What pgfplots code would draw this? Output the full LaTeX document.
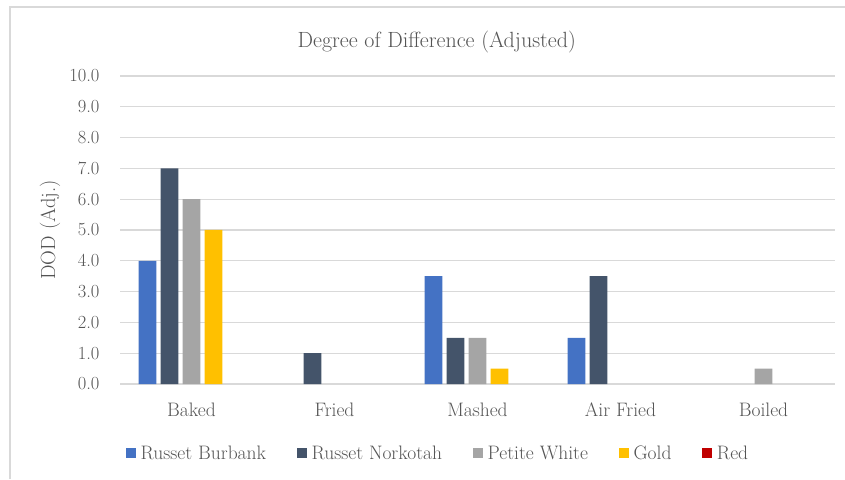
\documentclass[border=0pt]{standalone}
\usepackage{pgfplots}
\pgfplotsset{compat=1.18}
\definecolor{burbank}{HTML}{4472C4}
\definecolor{norkotah}{HTML}{44546A}
\definecolor{petite}{HTML}{A5A5A5}
\definecolor{goldpot}{HTML}{FFC000}
\definecolor{redpot}{HTML}{C00000}
\definecolor{txt}{HTML}{545454}
\definecolor{gridc}{HTML}{D9D9D9}
\begin{document}
\begin{tikzpicture}
\useasboundingbox (0pt,0pt) rectangle (845pt,479pt);
% chart frame
\draw[gridc, line width=1.2pt] (10pt,0pt) -- (10pt,472pt) -- (845pt,472pt);
\begin{axis}[
  at={(120pt,95pt)}, anchor=south west,
  scale only axis, width=715pt, height=308pt,
  xmin=-0.5, xmax=4.5, ymin=0, ymax=10,
  xtick={0,1,2,3,4},
  xticklabels={Baked, Fried, Mashed, Air Fried, Boiled},
  ytick={0,1,...,10},
  yticklabel={\pgfmathprintnumber[fixed,fixed zerofill,precision=1]{\tick}},
  /pgf/number format/assume math mode=true,
  major tick length=0pt,
  axis line style={draw=none},
  ymajorgrids, grid style={gridc, line width=1.2pt},
  yticklabel style={xshift=-17pt, font=\fontsize{18.5}{22}\selectfont, text=txt},
  xticklabel style={yshift=-15pt, font=\fontsize{19.5}{23}\selectfont, text=txt},
  title={Degree of Difference (Adjusted)},
  title style={at={(0.443,1.091)}, anchor=center, font=\fontsize{22}{26}\selectfont, text=txt},
  ylabel={DOD (Adj.)},
  ylabel style={at={(-0.098,0.5)}, anchor=center, font=\fontsize{20.5}{24}\selectfont, text=txt},
  legend columns=5,
  legend style={at={(0.445,-0.224)}, anchor=center, draw=none, fill=none,
    font=\fontsize{19.5}{23}\selectfont, text=txt,
    /tikz/every even column/.append style={column sep=29pt},
    /tikz/every odd column/.append style={column sep=2.5pt}},
  legend image code/.code={\fill[#1] (0pt,-5pt) rectangle (10pt,5pt);},
  bar width=0.125,
  % Excel leaves empty slots for zero values
  unbounded coords=discard,
  y filter/.expression={y==0 ? nan : y},
]
\addplot[ybar, bar shift=-0.308, fill=burbank, draw=none]
  coordinates {(0,4.0) (1,0) (2,3.5) (3,1.5) (4,0)};
\addlegendentry{Russet Burbank}
\addplot[ybar, bar shift=-0.154, fill=norkotah, draw=none]
  coordinates {(0,7.0) (1,1.0) (2,1.5) (3,3.5) (4,0)};
\addlegendentry{Russet Norkotah}
\addplot[ybar, bar shift=0, fill=petite, draw=none]
  coordinates {(0,6.0) (1,0) (2,1.5) (3,0) (4,0.5)};
\addlegendentry{Petite White}
\addplot[ybar, bar shift=0.154, fill=goldpot, draw=none]
  coordinates {(0,5.0) (1,0) (2,0.5) (3,0) (4,0)};
\addlegendentry{Gold}
\addplot[ybar, bar shift=0.308, fill=none, draw=none, forget plot, y filter/.expression={y}]
  coordinates {(0,0) (1,0) (2,0) (3,0) (4,0)};
\addlegendimage{fill=redpot, draw=none}
\addlegendentry{Red}
\end{axis}
\end{tikzpicture}
\end{document}
